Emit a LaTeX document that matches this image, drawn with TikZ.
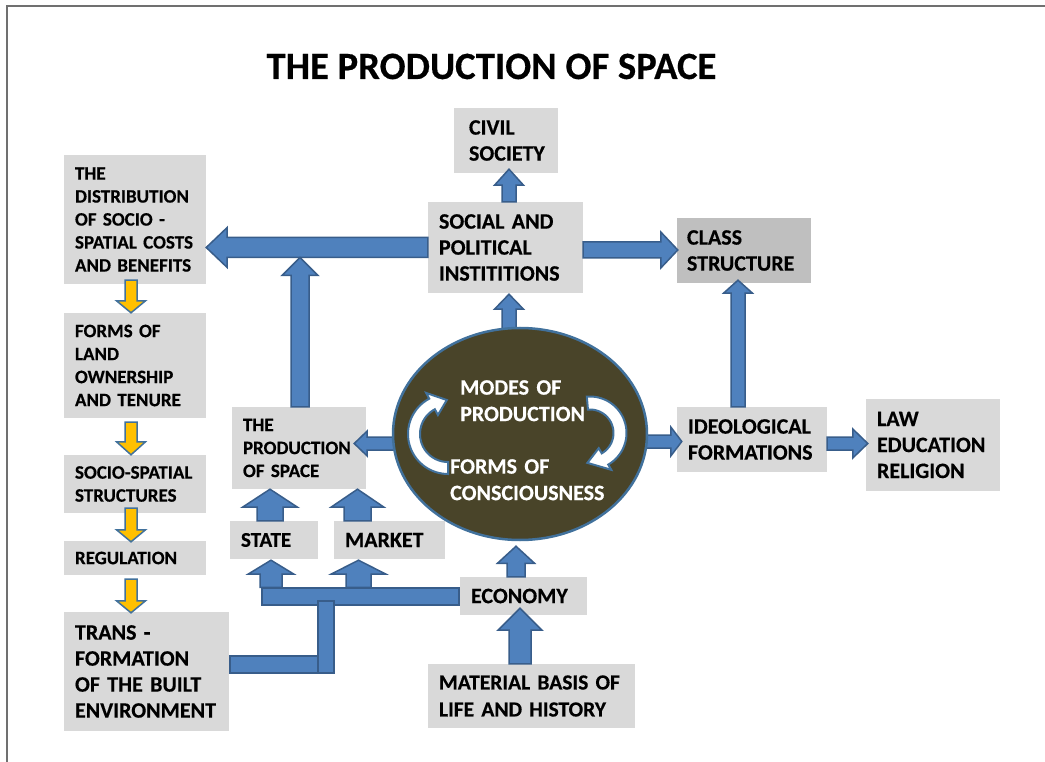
\documentclass[tikz,border=0pt]{standalone}
\usepackage{fontspec}
\setmainfont{Carlito}[BoldFeatures={FakeBold=0.4}]
\usetikzlibrary{calc,shapes.geometric}
\definecolor{boxgray}{HTML}{D9D9D9}
\definecolor{classgray}{HTML}{BFBFBF}
\definecolor{arrowblue}{HTML}{4F81BD}
\definecolor{arrowedge}{HTML}{385D8A}
\definecolor{arrowyellow}{HTML}{FFC000}
\definecolor{corefill}{HTML}{494429}
\definecolor{coreedge}{HTML}{41719C}
\definecolor{framegray}{HTML}{707070}
\hyphenpenalty=10000
\exhyphenpenalty=10000
\pgfdeclarelayer{front}
\pgfsetlayers{main,front}
\tikzset{
 box/.style={fill=boxgray, inner xsep=11pt, inner ysep=0pt, align=left, anchor=center},
 small/.style={font=\fontsize{19}{23}\selectfont\bfseries},
 big/.style={font=\fontsize{22}{26}\selectfont\bfseries},
 blk/.style={fill=arrowblue, draw=arrowedge, line width=1.5pt, line join=miter},
 yel/.style={fill=arrowyellow, draw=coreedge, line width=1.5pt, line join=miter},
 curv/.style={fill=white, draw=coreedge, line width=2pt, line join=miter},
 etext/.style={text=white, font=\fontsize{22}{26.5}\selectfont\bfseries, align=left, text width=170pt, inner sep=0pt, anchor=north west},
}
% block arrow: [style]{tail}{tip}{shaft half width}{head half width}{head length}
\newcommand\barrow[6][blk]{%
  \draw[#1] let \p1=#2, \p2=#3, \n1={atan2(\y2-\y1,\x2-\x1)}, \n2={veclen(\x2-\x1,\y2-\y1)} in
    [shift={(\p1)}, rotate=\n1] (0,-#4) -- ({\n2-#6},-#4) -- ({\n2-#6},-#5) -- (\n2,0)
    -- ({\n2-#6},#5) -- ({\n2-#6},#4) -- (0,#4) -- cycle;}
% curved arrow: cx, cy, r, half thickness, start angle, end angle, tip angle, head half width
\newcommand\carrow[8]{%
  \filldraw[curv] plot[domain=#5:#6, samples=36] ({#1+(#3+#4)*cos(\x)},{#2+(#3+#4)*sin(\x)})
   -- ({#1+(#3+#8)*cos(#6)},{#2+(#3+#8)*sin(#6)})
   -- ({#1+#3*cos(#7)},{#2+#3*sin(#7)})
   -- ({#1+(#3-#8)*cos(#6)},{#2+(#3-#8)*sin(#6)})
   -- plot[domain=#6:#5, samples=36] ({#1+(#3-#4)*cos(\x)},{#2+(#3-#4)*sin(\x)})
   -- cycle;}
\begin{document}
\begin{tikzpicture}[x=1pt,y=-1pt]
\useasboundingbox (0,0) rectangle (1045,762);
% core ellipse (front layer)
\begin{pgfonlayer}{front}
\node[ellipse, draw=coreedge, line width=2.5pt, fill=corefill, minimum width=254pt, minimum height=212pt, inner sep=0pt] (core) at (520,434) {};
\carrow{448}{434}{34}{6}{90}{242}{268}{12.5}
\carrow{590}{433}{30}{6.5}{265}{420}{455}{12.5}
\node[etext] (modes) at (460,380) {MODES OF\\PRODUCTION};
\node[etext] (forms) at (450,459) {FORMS OF\\CONSCIOUSNESS};
\end{pgfonlayer}
% frame
\draw[framegray, line width=2pt] (7,762) -- (7,6) -- (1045,6);
% title
\node[font=\fontsize{38.6}{46}\selectfont\bfseries, anchor=base, inner sep=0pt] (title) at (491.5,79) {THE PRODUCTION OF SPACE};
% left column
\node[box, small, minimum width=142pt, minimum height=129pt, text width=120pt] (dist) at (135,219.5) {THE\\DISTRIBUTION\\OF~SOCIO~-\\SPATIAL~COSTS\\AND~BENEFITS};
\node[box, small, minimum width=142pt, minimum height=105pt, text width=120pt] (land) at (135,365.5) {FORMS~OF\\LAND\\OWNERSHIP\\AND~TENURE};
\node[box, small, minimum width=142pt, minimum height=58pt, text width=120pt] (socio) at (135,484) {SOCIO-SPATIAL\\STRUCTURES};
\node[box, small, minimum width=142pt, minimum height=34pt, text width=120pt] (reg) at (135,558) {REGULATION};
\node[box, big, minimum width=165pt, minimum height=119pt, text width=143pt] (trans) at (146.5,671.5) {TRANS~-\\FORMATION\\OF~THE~BUILT\\ENVIRONMENT};
% middle and right boxes
\node[box, small, minimum width=134pt, minimum height=82pt, text width=112pt] (prod) at (299,448) {THE\\PRODUCTION\\OF~SPACE};
\node[box, big, inner xsep=15pt, minimum width=104pt, minimum height=65pt, text width=74pt] (civil) at (506,140.5) {CIVIL\\SOCIETY};
\node[box, big, minimum width=155pt, minimum height=91pt, text width=133pt] (social) at (505.5,247.5) {SOCIAL~AND\\POLITICAL\\INSTITITIONS};
\node[box, big, fill=classgray, inner xsep=10pt, minimum width=134pt, minimum height=65pt, text width=114pt] (class) at (744,250.5) {CLASS\\STRUCTURE};
\node[box, big, minimum width=150pt, minimum height=65pt, text width=128pt] (ideo) at (752,439.5) {IDEOLOGICAL\\FORMATIONS};
\node[box, big, minimum width=134pt, minimum height=92pt, text width=112pt] (law) at (933,445) {LAW\\EDUCATION\\RELIGION};
\node[box, font=\fontsize{21}{25}\selectfont\bfseries, minimum width=88pt, minimum height=38pt, text width=66pt] (state) at (274,540) {STATE};
\node[box, big, minimum width=111pt, minimum height=38pt, text width=89pt] (market) at (389.5,540) {MARKET};
\node[box, big, minimum width=127pt, minimum height=38pt, text width=105pt] (economy) at (523.5,596) {ECONOMY};
\node[box, font=\fontsize{21.5}{27}\selectfont\bfseries, minimum width=207pt, minimum height=64pt, text width=185pt] (material) at (531.5,696) {MATERIAL~BASIS~OF\\LIFE~AND~HISTORY};
% bars from economy
\node[blk, minimum width=197pt, minimum height=17pt, inner sep=0pt] (bar) at (360.5,596.5) {};
\node[blk, minimum width=104pt, minimum height=17pt, inner sep=0pt] (barlow) at (282,664.5) {};
\node[blk, minimum width=16pt, minimum height=72pt, inner sep=0pt] (barv) at (326,637) {};
% blue block arrows
\coordinate (jA) at (300,257.5);
\coordinate (t4) at ($(social.east)+(0,2.5)$);
\barrow{(social.west)}{(dist.east |- social.west)}{10}{20}{21}
\barrow{(jA |- prod.north)}{(jA)}{9}{18}{18}
\barrow{($(social.north)+(3.5,0)$)}{($(civil.south)+(3,-4)$)}{7}{14.5}{16}
\barrow{(t4)}{($(class.west |- t4)+(1,0)$)}{8}{18}{17}
\barrow{($(core.north)+(-11,10)$)}{($(social.south)+(3.5,1)$)}{7}{14.5}{15}
\barrow{($(ideo.east)+(0,4)$)}{($(law.west)+(2,-1.5)$)}{6.5}{14.5}{15}
\barrow{($(ideo.north)+(-14,0)$)}{($(class.south)+(-6,-3)$)}{7}{14.5}{13}
\barrow{($(economy.north)+(-7.5,0)$)}{($(core.south)+(-4,5)$)}{9}{18.5}{17}
\barrow{($(material.north)+(-11.5,0)$)}{($(economy.south)+(-3.5,-7)$)}{11}{22}{22}
\barrow{($(state.north)+(-4,0)$)}{($(prod.south -| state.north)+(-4,0)$)}{13}{27.5}{18}
\barrow{($(market.north)+(-32,0)$)}{($(prod.south -| market.north)+(-32,0)$)}{13.5}{26.5}{18}
\barrow{($(bar.north -| state.north)+(-3,0)$)}{($(state.south)+(-3,1)$)}{11}{23}{14}
\barrow{($(bar.north -| market.north)+(-31,0)$)}{($(market.south)+(-31,1)$)}{12.5}{27.5}{14}
\barrow{($(core.west)+(8,9.5)$)}{($(prod.east)+(-12,-4.5)$)}{6.5}{12.5}{13}
\barrow{($(core.east)+(-8,7.5)$)}{($(ideo.west)+(5,2)$)}{6.5}{14.5}{11}
% yellow arrows
\barrow[yel]{($(dist.south)+(-4,-4)$)}{($(land.north)+(-4,0)$)}{6}{14.5}{12}
\barrow[yel]{($(land.south)+(-4,4)$)}{($(socio.north)+(-4,0)$)}{6}{14.5}{13}
\barrow[yel]{($(socio.south)+(-4,-5)$)}{($(reg.north)+(-4,1)$)}{6}{14.5}{12}
\barrow[yel]{($(reg.south)+(-4,4)$)}{($(reg.south |- trans.north)+(-4,1)$)}{6}{14.5}{12}
\end{tikzpicture}
\end{document}
